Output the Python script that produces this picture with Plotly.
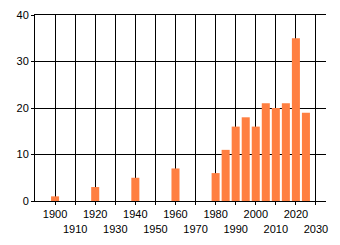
import plotly.graph_objects as go

years = [1900, 1920, 1940, 1960, 1980, 1985, 1990, 1995, 2000, 2005, 2010, 2015, 2020, 2025]
values = [1, 3, 5, 7, 6, 11, 16, 18, 16, 21, 20, 21, 35, 19]

tick_years = list(range(1900, 2031, 10))
tick_text = [str(y) if (y // 10) % 2 == 0 else "<br>" + str(y) for y in tick_years]
y_ticks = [0, 10, 20, 30, 40]

fig = go.Figure()
fig.add_trace(go.Bar(
    x=years, y=values, width=[4] * len(years),
    marker=dict(color="#FF7F41", line=dict(width=0)),
))

font = dict(family="Liberation Sans, Arial, sans-serif", size=11, color="#000000")
fig.update_layout(
    width=340, height=245,
    margin=dict(l=35, r=14, t=15, b=44),
    paper_bgcolor="white", plot_bgcolor="white",
    showlegend=False,
    font=font,
    xaxis=dict(
        range=[1890, 2035],
        tickmode="array", tickvals=tick_years, ticktext=tick_text,
        tickangle=0, automargin=False,
        showgrid=True, gridcolor="black", gridwidth=1,
        showline=True, linecolor="black", linewidth=1, mirror=True,
        ticks="outside", ticklen=3, tickcolor="black",
        zeroline=False, tickfont=font,
    ),
    yaxis=dict(
        range=[0, 40], automargin=False,
        tickmode="array", tickvals=y_ticks,
        showgrid=True, gridcolor="black", gridwidth=1,
        showline=True, linecolor="black", linewidth=1,
        ticks="outside", ticklen=3, tickcolor="black",
        zeroline=False, tickfont=font,
    ),
)

fig.write_html("out.html")
